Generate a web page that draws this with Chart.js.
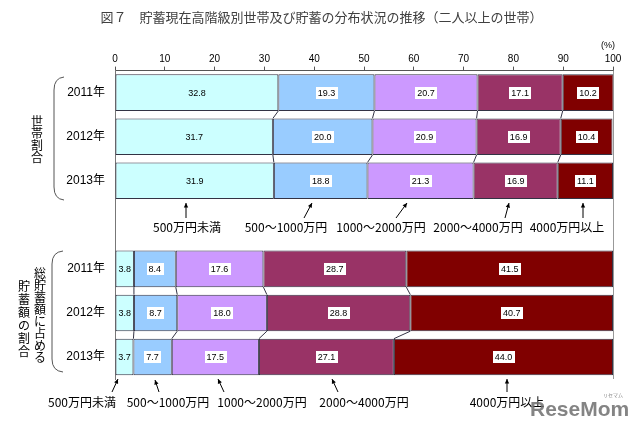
<!DOCTYPE html>
<html lang="ja">
<head>
<meta charset="utf-8">
<title>貯蓄現在高階級別世帯及び貯蓄の分布状況の推移</title>
<script src="https://cdn.jsdelivr.net/npm/chart.js@4.4.0/dist/chart.umd.min.js"></script>
<style>
  body { margin: 0; background: #fff; }
  #wrap { width: 640px; height: 428px; }
</style>
</head>
<body>
<div id="wrap"><canvas id="myChart" width="640" height="428"></canvas></div>
<script>
/* Rows of the chart. The two groups share the same years,
   an empty row is put between them to leave room for the notes. */
var years = ['2011年', '2012年', '2013年'];
var classes = ['500万円未満', '500～1000万円', '1000～2000万円', '2000～4000万円', '4000万円以上'];

/* 世帯割合 (%) for each year, in the order of classes */
var households2011 = [32.8, 19.3, 20.7, 17.1, 10.2];
var households2012 = [31.7, 20.0, 20.9, 16.9, 10.4];
var households2013 = [31.9, 18.8, 21.3, 16.9, 11.1];

/* 総貯蓄額に占める貯蓄額の割合 (%) for each year */
var savings2011 = [3.8, 8.4, 17.6, 28.7, 41.5];
var savings2012 = [3.8, 8.7, 18.0, 28.8, 40.7];
var savings2013 = [3.7, 7.7, 17.5, 27.1, 44.0];

var classColors = ['#ccffff', '#99ccff', '#cc99ff', '#993366', '#800000'];

var householdRows = [households2011, households2012, households2013];
var savingsRows = [savings2011, savings2012, savings2013];
var rowLabels = years.concat([''], years);

var latinFont = '"Liberation Sans", "Noto Sans CJK JP", sans-serif';
var cjkFont = '"Noto Sans CJK JP", sans-serif';

/* one dataset per savings class, top group then gap then bottom group */
var datasets = classes.map(function(name, i) {
  var values = householdRows.map(function(r) { return r[i]; })
    .concat([null], savingsRows.map(function(r) { return r[i]; }));
  return {
    label: name,
    data: values,
    backgroundColor: classColors[i],
    borderColor: '#333344',
    borderWidth: 1,
    borderSkipped: false,
    barPercentage: 0.83,
    categoryPercentage: 1
  };
});

/* value in the middle of every segment, on a white box except on the light cyan */
var valueLabels = {
  id: 'valueLabels',
  afterDatasetsDraw: function(chart) {
    var ctx = chart.ctx;
    ctx.save();
    ctx.font = '9px ' + latinFont;
    ctx.textAlign = 'center';
    ctx.textBaseline = 'middle';
    chart.data.datasets.forEach(function(ds, i) {
      chart.getDatasetMeta(i).data.forEach(function(el, j) {
        var v = ds.data[j];
        if (v === null) return;
        var txt = v.toFixed(1);
        var cx = (el.x + el.base) / 2;
        var w = ctx.measureText(txt).width + 4;
        if (i > 0) {
          ctx.fillStyle = '#ffffff';
          ctx.fillRect(Math.round(cx - w / 2), Math.round(el.y - 6), Math.round(w), 12);
        }
        ctx.fillStyle = '#000000';
        ctx.fillText(txt, cx, el.y + 0.5);
      });
    });
    ctx.restore();
  }
};

/* series lines joining the segment borders of neighbouring bars */
var seriesLines = {
  id: 'seriesLines',
  afterDatasetsDraw: function(chart) {
    var ctx = chart.ctx;
    var pairs = [[0, 1], [1, 2], [4, 5], [5, 6]];
    ctx.save();
    ctx.strokeStyle = '#333344';
    ctx.lineWidth = 1;
    for (var k = 0; k < chart.data.datasets.length - 1; k++) {
      var els = chart.getDatasetMeta(k).data;
      pairs.forEach(function(p) {
        var a = els[p[0]], b = els[p[1]];
        ctx.beginPath();
        ctx.moveTo(a.x, a.y + a.height / 2);
        ctx.lineTo(b.x, b.y - b.height / 2);
        ctx.stroke();
      });
    }
    ctx.restore();
  }
};

function drawArrow(ctx, x1, y1, x2, y2) {
  var ang = Math.atan2(y2 - y1, x2 - x1);
  ctx.beginPath();
  ctx.moveTo(x1, y1);
  ctx.lineTo(x2, y2);
  ctx.stroke();
  ctx.beginPath();
  ctx.moveTo(x2, y2);
  ctx.lineTo(x2 - 5 * Math.cos(ang - 0.45), y2 - 5 * Math.sin(ang - 0.45));
  ctx.lineTo(x2 - 5 * Math.cos(ang + 0.45), y2 - 5 * Math.sin(ang + 0.45));
  ctx.closePath();
  ctx.fill();
}

function drawVertical(ctx, text, x, y, step) {
  for (var i = 0; i < text.length; i++) {
    ctx.fillText(text[i], x, y + i * step);
  }
}

/* notes, braces, group names and the frame line on the right */
var decorations = {
  id: 'decorations',
  afterDraw: function(chart) {
    var ctx = chart.ctx;
    var area = chart.chartArea;
    ctx.save();

    ctx.strokeStyle = '#999999';
    ctx.lineWidth = 1;
    ctx.beginPath();
    ctx.moveTo(Math.round(area.right) + 0.5, area.top);
    ctx.lineTo(Math.round(area.right) + 0.5, area.bottom);
    ctx.stroke();

    ctx.fillStyle = '#000';
    ctx.font = '9px ' + latinFont;
    ctx.textAlign = 'center';
    ctx.textBaseline = 'middle';
    ctx.fillText('(%)', 608, 46);

    /* group names written top to bottom */
    ctx.font = '12px ' + cjkFont;
    drawVertical(ctx, '世帯割合', 37, 121, 12);
    drawVertical(ctx, '総貯蓄額に占める', 40, 273, 12);
    drawVertical(ctx, '貯蓄額の割合', 24, 286, 13);

    ctx.strokeStyle = '#555555';
    ctx.beginPath();
    ctx.moveTo(64, 77);
    ctx.quadraticCurveTo(54, 78, 54, 90);
    ctx.lineTo(54, 187);
    ctx.quadraticCurveTo(54, 199, 64, 200);
    ctx.stroke();
    ctx.beginPath();
    ctx.moveTo(63, 251);
    ctx.quadraticCurveTo(52, 252, 52, 264);
    ctx.lineTo(52, 359);
    ctx.quadraticCurveTo(52, 371, 63, 372);
    ctx.stroke();

    /* class names with arrows, between the groups and under them */
    var topNotes = [[187, 186, 218, 186, 203], [286, 304, 218, 312, 203], [381, 396, 218, 407, 203],
                    [478, 505, 218, 509, 203], [567, 583, 218, 583, 203]];
    var bottomNotes = [[82, 112, 392, 118, 379], [168, 159, 392, 155, 380], [262, 224, 392, 218, 379],
                       [364, 338, 392, 332, 379], [507, 507, 392, 507, 379]];
    ctx.strokeStyle = '#000';
    ctx.fillStyle = '#000';
    ctx.font = '12px ' + cjkFont;
    topNotes.forEach(function(n, i) {
      ctx.fillText(classes[i], n[0], 227);
      drawArrow(ctx, n[1], n[2], n[3], n[4]);
    });
    bottomNotes.forEach(function(n, i) {
      ctx.fillText(classes[i], n[0], 402);
      drawArrow(ctx, n[1], n[2], n[3], n[4]);
    });

    /* site watermark */
    ctx.textAlign = 'left';
    ctx.textBaseline = 'alphabetic';
    ctx.fillStyle = 'rgba(110,110,110,0.85)';
    ctx.font = 'bold 21px ' + latinFont;
    ctx.fillText('ReseMom', 530, 416);
    ctx.font = '5px ' + cjkFont;
    ctx.fillText('リセマム', 603, 397);
    ctx.restore();
  }
};

var myChart = new Chart(document.getElementById('myChart'), {
  type: 'bar',
  data: {
    labels: rowLabels,
    datasets: datasets
  },
  options: {
    indexAxis: 'y',
    responsive: false,
    animation: false,
    layout: {
      padding: { left: 30, right: 27, top: 0, bottom: 49 }
    },
    plugins: {
      legend: { display: false },
      tooltip: { enabled: false },
      title: {
        display: true,
        text: '図７　貯蓄現在高階級別世帯及び貯蓄の分布状況の推移（二人以上の世帯）',
        color: '#404040',
        font: { family: cjkFont, size: 13, weight: 'normal' },
        padding: { top: 9, bottom: 24 }
      }
    },
    scales: {
      x: {
        position: 'top',
        stacked: true,
        min: 0,
        max: 100,
        ticks: {
          stepSize: 10,
          color: '#000',
          padding: 1,
          font: { family: latinFont, size: 10 }
        },
        grid: {
          drawOnChartArea: false,
          tickLength: 4,
          color: '#555'
        },
        border: { color: '#555' },
        afterFit: function(scale) { scale.height = 22; }
      },
      y: {
        stacked: true,
        ticks: {
          color: '#000',
          padding: 10,
          font: { family: latinFont, size: 12 }
        },
        grid: { display: false, drawTicks: false },
        border: { color: '#777' },
        afterFit: function(scale) { scale.width = 85; }
      }
    }
  },
  plugins: [seriesLines, valueLabels, decorations]
});
</script>
</body>
</html>
